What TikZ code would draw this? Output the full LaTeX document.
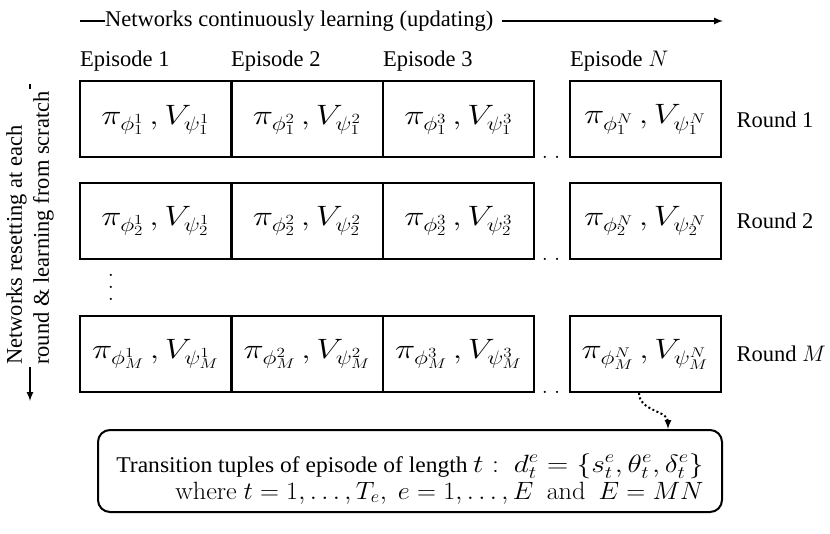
\RequirePackage{fix-cm}
\documentclass[tikz,border=0pt]{standalone}
\usepackage{graphicx}
\usepackage[no-math]{fontspec}
\setmainfont{Liberation Serif}
\usetikzlibrary{arrows}
\tikzset{>=latex}
\tikzset{
  cell/.style={draw, line width=2pt, minimum width=151pt, minimum height=76pt, inner sep=0pt},
  thickline/.style={line width=2pt},
}
\newcommand{\colvdots}{\vbox{\baselineskip=12pt \lineskiplimit=0pt \hbox{$.$}\hbox{$.$}\hbox{$.$}}}
\newcommand{\cellmath}[1]{{\fontsize{28}{30}\selectfont\scalebox{1.22}[1]{$#1$}}}

\begin{document}
\begin{tikzpicture}[x=1pt, y=-1pt, font=\fontsize{22.5}{27}\selectfont]
  \useasboundingbox (0,0) rectangle (830,534);

  % Top arrow
  \coordinate (tstart) at (80,21);
  \coordinate (tend) at (723,21);
  \node[anchor=west, inner sep=0pt] (tlabel) at (105,21) {Networks continuously learning (updating)};
  \draw[thickline] (tstart) -- (tlabel.west);
  \draw[thickline, ->] ([xshift=9pt]tlabel.east) -- (tend);

  % Episodes
  \foreach \x/\n/\e in {80/1/1, 231/2/2, 383/3/3, 570/n/$N$}
    \node[anchor=base west, inner sep=0pt] (ep\n) at (\x,67) {Episode \e};

  % Rounds
  \foreach \r/\y/\s/\t in {1/119.5/1/1, 2/221/2/2, m/354/M/$M$}{
    \foreach \c/\x/\p in {1/155.5/1, 2/307/2, 3/458.5/3, n/645/N}
      \node[cell] (c\r\c) at (\x,\y) {\cellmath{\pi_{\phi^{\p}_{\s}}\,, V_{\psi^{\p}_{\s}}}};
    \node[anchor=west] (round\r) at (733,\y) {Round \t};
    \node[anchor=base, inner sep=0pt] (dots\r) at (551,\y+39.5) {$.\;.$};
  }
  \node (vdots) at (111,287) {\colvdots};

  % Left arrow
  \coordinate (lstart) at (30,84);
  \coordinate (lend) at (30,401);
  \node[rotate=90, anchor=west, align=left, inner sep=2pt] (llabel) at (30,367)
    {Networks resetting at each\\round \& learning from scratch};
  \draw[thickline] (lstart) -- (llabel.east);
  \draw[thickline, ->] (llabel.west) -- (lend);

  % Transition tuples
  \node[draw, thickline, rounded corners=12pt, minimum width=624pt, minimum height=82pt, align=right] (tuples) at (410,471)
    {\rule{0pt}{34pt}\scalebox{1.045}[1]{Transition tuples of episode of length}
     {\fontsize{25}{27}\selectfont\scalebox{1.18}[1]{$t:$~ $d^e_t = \{s^e_t, \theta^e_t, \delta^e_t\}$}}\\
     {\fontsize{25}{27}\selectfont\scalebox{1.05}[1]{$\mathrm{where}\ t=1,\ldots,T_e,\ e=1,\ldots,E\ \ \mathrm{and}\ \ E=MN$}}};
  \draw[thickline, ->, dash pattern=on 2pt off 2.5pt] ([xshift=-6pt]cmn.south) to[out=-90, in=90] ([xshift=-55pt]tuples.north east);
\end{tikzpicture}
\end{document}
